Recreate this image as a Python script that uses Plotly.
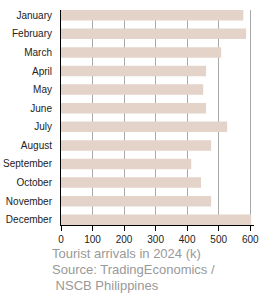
import plotly.graph_objects as go

months = ["January", "February", "March", "April", "May", "June", "July",
          "August", "September", "October", "November", "December"]
arrivals = [578, 587, 508, 460, 451, 460, 527, 476, 413, 444, 476, 603]
x_ticks = [0, 100, 200, 300, 400, 500, 600]
note_lines = ["Tourist arrivals in 2024 (k)", "Source: TradingEconomics /", " NSCB Philippines"]

W, H = 270, 300
ml, mr, mt, mb = 61, 16, 10, 75
pw = W - ml - mr

bar_w = 0.565
fig = go.Figure(go.Bar(
    x=arrivals, y=list(range(len(months))), orientation="h",
    marker=dict(color="#e3d3c9", line=dict(width=0)),
    width=bar_w, hoverinfo="skip",
))

fig.update_layout(
    width=W, height=H,
    margin=dict(l=ml, r=mr, t=mt, b=mb, pad=0, autoexpand=False),
    paper_bgcolor="white", plot_bgcolor="white",
    font=dict(family="Liberation Sans, Arial, sans-serif", size=10, color="#222"),
    showlegend=False,
    xaxis=dict(
        range=[0, 612], tickvals=x_ticks, ticktext=[str(v) for v in x_ticks],
        showgrid=True, gridcolor="#a8a8a8", gridwidth=1,
        showline=True, linecolor="black", linewidth=1,
        ticks="outside", ticklen=5, tickcolor="black", tickwidth=1,
        zeroline=False, tickfont=dict(size=10, color="#222"), automargin=False,
    ),
    yaxis=dict(
        range=[len(months) - 1 + bar_w / 2, -bar_w / 2],
        tickvals=list(range(len(months))), ticktext=months,
        showgrid=False, showline=True, linecolor="black", linewidth=1,
        ticks="", zeroline=False, tickfont=dict(size=10, color="#222"),
        ticklabelstandoff=6, automargin=False,
    ),
)

x0 = (50 - ml) / pw
for i, line in enumerate(note_lines):
    fig.add_annotation(
        text=line.replace(" ", "&nbsp;", 1) if line.startswith(" ") else line,
        xref="paper", yref="paper",
        x=x0, y=-(253 + 16 * i - mt - (H - mt - mb)) / (H - mt - mb),
        xanchor="left", yanchor="middle", showarrow=False,
        font=dict(size=13, color="#999999"),
    )

fig.write_html("out.html")
